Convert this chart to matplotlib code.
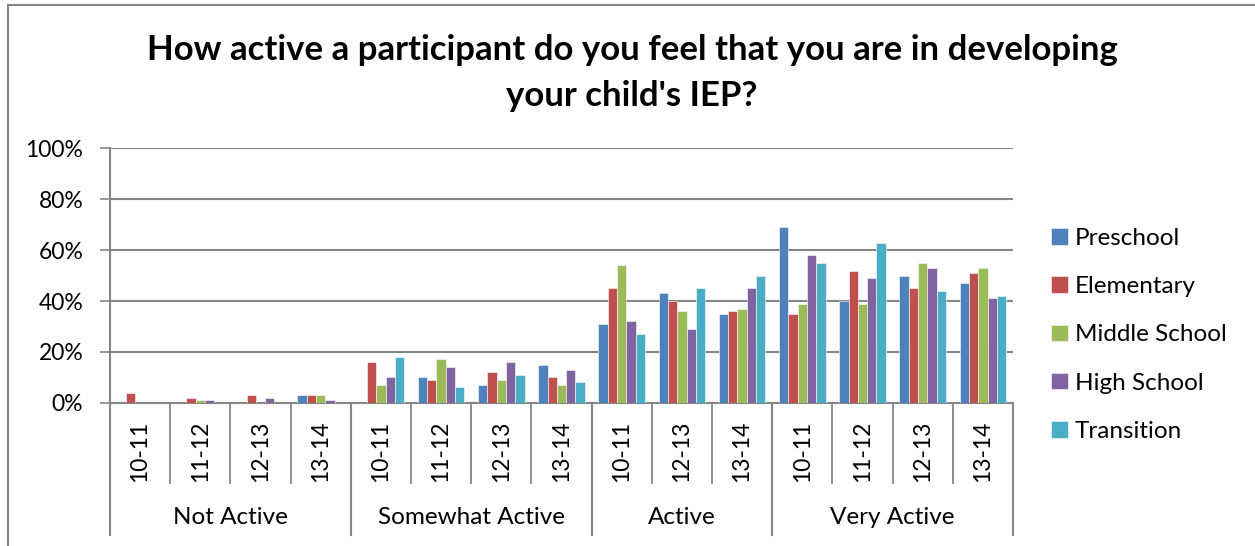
import matplotlib
matplotlib.use("Agg")
import matplotlib.pyplot as plt
from matplotlib.lines import Line2D
import numpy as np

plt.rcParams['font.family'] = ['Lato', 'DejaVu Sans']

# Survey answers, percent of respondents per school level
groups = ["Not Active", "Somewhat Active", "Active", "Very Active"]
years = [
    ["10-11", "11-12", "12-13", "13-14"],
    ["10-11", "11-12", "12-13", "13-14"],
    ["10-11", "12-13", "13-14"],
    ["10-11", "11-12", "12-13", "13-14"],
]
series = ["Preschool", "Elementary", "Middle School", "High School", "Transition"]
preschool  = [0, 0, 0, 3,   0, 10, 7, 15,   31, 43, 35,   69, 40, 50, 47]
elementary = [4, 2, 3, 3,   16, 9, 12, 10,  45, 40, 36,   35, 52, 45, 51]
middle     = [0, 1, 0, 3,   7, 17, 9, 7,    54, 36, 37,   39, 39, 55, 53]
high       = [0, 1, 2, 1,   10, 14, 16, 13, 32, 29, 45,   58, 49, 53, 41]
transition = [0, 0, 0, 0,   18, 6, 11, 8,   27, 45, 50,   55, 63, 44, 42]
colors = ["#4F81BD", "#C0504D", "#9BBB59", "#8064A2", "#4BACC6"]

values = [preschool, elementary, middle, high, transition]
labels = [y for g in years for y in g]
n = len(labels)
x = np.arange(n)

W, H = 1255, 546
fig = plt.figure(figsize=(W / 100, H / 100), dpi=100)
ax = fig.add_axes([110 / W, 1 - 402.7 / H, 903 / W, 254.2 / H])

bw = 0.155
for i, (vals, name, c) in enumerate(zip(values, series, colors)):
    ax.bar(x + (i - 2) * bw, vals, width=bw, color=c, label=name,
           edgecolor="white", linewidth=0.4, zorder=3)

grid_c = "#868686"
ax.set_xlim(-0.5, n - 0.5)
ax.set_ylim(0, 100)
ax.set_yticks(range(0, 101, 20))
ax.set_yticklabels([f"{v}%" for v in range(0, 101, 20)], fontsize=16.5)
ax.yaxis.grid(True, color=grid_c, linewidth=1.5, zorder=0)
ax.tick_params(axis='y', length=7.2, width=1.2, color=grid_c, pad=12)
ax.set_xticks([])
for s in ["top", "right"]:
    ax.spines[s].set_visible(False)
ax.spines["left"].set_color(grid_c)
ax.spines["left"].set_linewidth(1.5)
ax.spines["bottom"].set_color(grid_c)
ax.spines["bottom"].set_linewidth(1.5)

# two-level category axis
ax_h = 254.2
tr = ax.get_xaxis_transform()
def ypix(p):
    return (402.7 - p) / ax_h

for xi, lab in zip(x, labels):
    ax.text(xi, ypix(451), lab, rotation=90, ha="center", va="center",
            fontsize=16.5, transform=tr)

start = 0
bounds = [-0.5]
for g, ys in zip(groups, years):
    end = start + len(ys)
    for k in range(start + 1, end):
        ax.plot([k - 0.5, k - 0.5], [0, ypix(483)], color=grid_c, lw=1.3,
                transform=tr, clip_on=False)
    ax.text((start + end - 1) / 2, ypix(518), g, ha="center", va="center",
            fontsize=17.5, transform=tr)
    bounds.append(end - 0.5)
    start = end
for b in bounds:
    ax.plot([b, b], [0, ypix(535)], color=grid_c, lw=1.5,
            transform=tr, clip_on=False)

fig.text(632 / W, 1 - 73 / H,
         "How active a participant do you feel that you are in developing\nyour child's IEP?",
         ha="center", va="center", fontsize=25, fontweight="bold", linespacing=1.5)

leg = fig.legend(loc="upper left", bbox_to_anchor=(1051 / W, 1 - 228 / H),
                 frameon=False, fontsize=17.5, handlelength=0.68, handleheight=0.68,
                 handletextpad=0.3, labelspacing=1.12, borderpad=0, borderaxespad=0)

# chart area border (top and left only visible)
fig.add_artist(Line2D([8 / W, 1], [1 - 4.5 / H, 1 - 4.5 / H], color=grid_c, lw=1.5))
fig.add_artist(Line2D([8 / W, 8 / W], [0, 1 - 4.5 / H], color=grid_c, lw=1.5))

fig.savefig("out.png", dpi=100, facecolor="white")
